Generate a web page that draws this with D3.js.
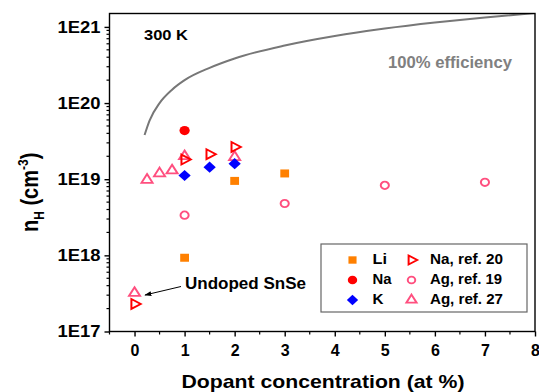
<!DOCTYPE html>
<html>
<head>
<meta charset="utf-8">
<script src="https://cdn.jsdelivr.net/npm/d3@7"></script>
<style>
  body { margin: 0; background: #fff; }
  svg text { font-family: "Liberation Sans", Arial, sans-serif; font-weight: bold; }
</style>
</head>
<body>
<div class="chart"></div>
<script>
// data (x = at %, y = n_H in cm^-3)
var liX = [1, 2, 3];
var liY = [9.3e17, 9.5e18, 1.19e19];
var naX = [1];
var naY = [4.35e19];
var kX = [1, 1.5, 2];
var kY = [1.12e19, 1.44e19, 1.6e19];
var naRef20X = [0, 1, 1.5, 2];
var naRef20Y = [2.3e17, 1.81e19, 2.13e19, 2.65e19];
var agRef19X = [1, 3, 5, 7];
var agRef19Y = [3.37e18, 4.8e18, 8.3e18, 9.1e18];
var agRef27X = [0, 0.25, 0.5, 0.75, 1, 2];
var agRef27Y = [3.2e17, 9.8e18, 1.19e19, 1.3e19, 2.0e19, 1.95e19];
// 100% efficiency curve
var effX = [0.2, 0.3, 0.5, 0.75, 1, 1.5, 2, 3, 4, 5, 6, 7, 8];
var effY = [3.8e19, 5.9e19, 1.0e20, 1.5e20, 2.0e20, 2.9e20, 3.85e20, 5.7e20, 7.6e20, 9.5e20, 1.14e21, 1.33e21, 1.52e21];

var xTicks = [0, 1, 2, 3, 4, 5, 6, 7, 8];
var yTicks = [1e17, 1e18, 1e19, 1e20, 1e21];

var svgWidth = 539;
var svgHeight = 392;
var margin = { top: 13.5, right: 4, bottom: 60.5, left: 109.5 };
var chartWidth = svgWidth - margin.left - margin.right;
var chartHeight = svgHeight - margin.top - margin.bottom;

var svg = d3.select(".chart").append("svg")
  .attr("width", svgWidth)
  .attr("height", svgHeight);

var defs = svg.append("defs");

var chartGroup = svg.append("g")
  .attr("transform", `translate(${margin.left}, ${margin.top})`);

var x = d3.scaleLinear().domain([-0.5, 8]).range([0, chartWidth]);
var y = d3.scaleLog().domain([1e17, 1.5e21]).range([chartHeight, 0]);

// clip for the curve
defs.append("clipPath").attr("id", "clip")
  .append("rect").attr("width", chartWidth).attr("height", chartHeight);

// efficiency line
chartGroup.append("path")
  .datum(effX.map((d, i) => [d, effY[i]]))
  .attr("clip-path", "url(#clip)")
  .attr("fill", "none")
  .attr("stroke", "#777")
  .attr("stroke-width", 2)
  .attr("d", d3.line().x(d => x(d[0])).y(d => y(d[1])).curve(d3.curveMonotoneX));

// frame
chartGroup.append("rect")
  .attr("width", chartWidth).attr("height", chartHeight)
  .attr("fill", "none").attr("stroke", "#000").attr("stroke-width", 1.4);

// x axis: majors + half-unit minors
var xAxis = chartGroup.append("g").attr("transform", `translate(0, ${chartHeight})`);
xAxis.call(d3.axisBottom(x).tickValues(xTicks).tickSize(5).tickPadding(8).tickFormat(d3.format("d")));
xAxis.selectAll(".minor").data(d3.range(-0.5, 8, 1)).enter().append("line")
  .attr("class", "minor").attr("x1", d => x(d)).attr("x2", d => x(d))
  .attr("y1", 0).attr("y2", 3).attr("stroke", "#000").attr("stroke-width", 1.2);

// y axis: majors + log minors
var yAxis = chartGroup.append("g");
yAxis.call(d3.axisLeft(y).tickValues(yTicks).tickSize(5).tickPadding(4)
  .tickFormat(d => "1E" + Math.round(Math.log10(d))));
var yMinor = [];
[17, 18, 19, 20].forEach(e => { for (var m = 2; m <= 9; m++) yMinor.push(m * Math.pow(10, e)); });
yAxis.selectAll(".minor").data(yMinor).enter().append("line")
  .attr("class", "minor").attr("y1", d => y(d)).attr("y2", d => y(d))
  .attr("x1", 0).attr("x2", -3).attr("stroke", "#000").attr("stroke-width", 1.2);

svg.selectAll(".domain").remove();
svg.selectAll(".tick line").attr("stroke-width", 1.4);
svg.selectAll(".tick text").attr("font-size", 16).attr("fill", "#000");
yAxis.selectAll(".tick text").attr("textLength", 43).attr("lengthAdjust", "spacingAndGlyphs");

// axis labels
svg.append("text")
  .attr("x", 181.5).attr("y", 387.5)
  .attr("font-size", 19)
  .attr("textLength", 283).attr("lengthAdjust", "spacingAndGlyphs")
  .text("Dopant concentration (at %)");

var yl = svg.append("text")
  .attr("transform", "translate(38, 232) scale(1.15, 1) rotate(-90)")
  .attr("font-size", 20);
yl.append("tspan").text("n");
yl.append("tspan").attr("font-size", 12).attr("dy", 5).text("H");
yl.append("tspan").attr("dy", -5).text(" (cm");
yl.append("tspan").attr("font-size", 12).attr("dy", -9).text("-3");
yl.append("tspan").attr("dy", 9).text(")");

// markers
var pink = "#ff4f7f";
var sym = {
  li: { type: d3.symbolSquare, size: 64, fill: "#ff8000", stroke: "none" },
  na: { type: d3.symbolCircle, size: 68, fill: "#ff0000", stroke: "none" },
  k: { type: d3.symbolSquare, size: 62, fill: "#0000ff", stroke: "none", rot: 45 },
  na20: { type: d3.symbolTriangle, size: 42, fill: "none", stroke: "#ff0000", rot: 90 },
  ag19: { type: d3.symbolCircle, size: 43, fill: "none", stroke: pink },
  ag27: { type: d3.symbolTriangle, size: 44, fill: "none", stroke: pink }
};

function drawSeries(g, xs, ys, s) {
  g.selectAll(null).data(xs).enter().append("path")
    .attr("d", d3.symbol().type(s.type).size(s.size))
    .attr("transform", (d, i) => `translate(${x(d)}, ${y(ys[i])}) scale(1.1, 1) rotate(${s.rot || 0})`)
    .attr("fill", s.fill)
    .attr("stroke", s.stroke)
    .attr("stroke-width", 1.8);
}

drawSeries(chartGroup, liX, liY, sym.li);
drawSeries(chartGroup, agRef19X, agRef19Y, sym.ag19);
drawSeries(chartGroup, agRef27X, agRef27Y, sym.ag27);
drawSeries(chartGroup, kX, kY, sym.k);
drawSeries(chartGroup, naX, naY, sym.na);
drawSeries(chartGroup, naRef20X, naRef20Y, sym.na20);

// annotations
function label(xp, yp, size, len, txt, fill) {
  return svg.append("text").attr("x", xp).attr("y", yp).attr("font-size", size)
    .attr("textLength", len).attr("lengthAdjust", "spacingAndGlyphs")
    .attr("fill", fill || "#000").text(txt);
}
label(144, 40, 15.5, 44, "300 K");
label(388, 68, 16, 124, "100% efficiency", "#808080");
label(185, 289.3, 16, 121, "Undoped SnSe");

defs.append("marker").attr("id", "arrow")
  .attr("viewBox", "0 0 10 10").attr("refX", 9).attr("refY", 5)
  .attr("markerWidth", 7).attr("markerHeight", 7).attr("orient", "auto")
  .append("path").attr("d", "M0,1.5L10,5L0,8.5z").attr("fill", "#000");
svg.append("line")
  .attr("x1", 181).attr("y1", 286.5).attr("x2", 145).attr("y2", 295)
  .attr("stroke", "#000").attr("stroke-width", 1)
  .attr("marker-end", "url(#arrow)");

// legend
var legend = svg.append("g").attr("transform", "translate(321, 244)");
legend.append("rect").attr("width", 206).attr("height", 68)
  .attr("fill", "#fff").attr("stroke", "#666").attr("stroke-width", 1.2);

var legendItems = [
  { s: sym.li, label: "Li", len: 14.5, col: 0, row: 0 },
  { s: sym.na, label: "Na", len: 19, col: 0, row: 1 },
  { s: sym.k, label: "K", len: 11, col: 0, row: 2 },
  { s: sym.na20, label: "Na, ref. 20", len: 73, col: 1, row: 0 },
  { s: sym.ag19, label: "Ag, ref. 19", len: 72, col: 1, row: 1 },
  { s: sym.ag27, label: "Ag, ref. 27", len: 73, col: 1, row: 2 }
];
var colSym = [31.5, 90.5];
var colText = [51.5, 109];
legendItems.forEach(function(it) {
  var cy = 16 + it.row * 20;
  legend.append("path")
    .attr("d", d3.symbol().type(it.s.type).size(it.s.size * 0.85))
    .attr("transform", `translate(${colSym[it.col]}, ${cy}) scale(1.1, 1) rotate(${it.s.rot || 0})`)
    .attr("fill", it.s.fill).attr("stroke", it.s.stroke).attr("stroke-width", 1.8);
  legend.append("text").attr("x", colText[it.col]).attr("y", cy + 4.3)
    .attr("font-size", 15)
    .attr("textLength", it.len).attr("lengthAdjust", "spacingAndGlyphs")
    .text(it.label);
});
</script>
</body>
</html>
